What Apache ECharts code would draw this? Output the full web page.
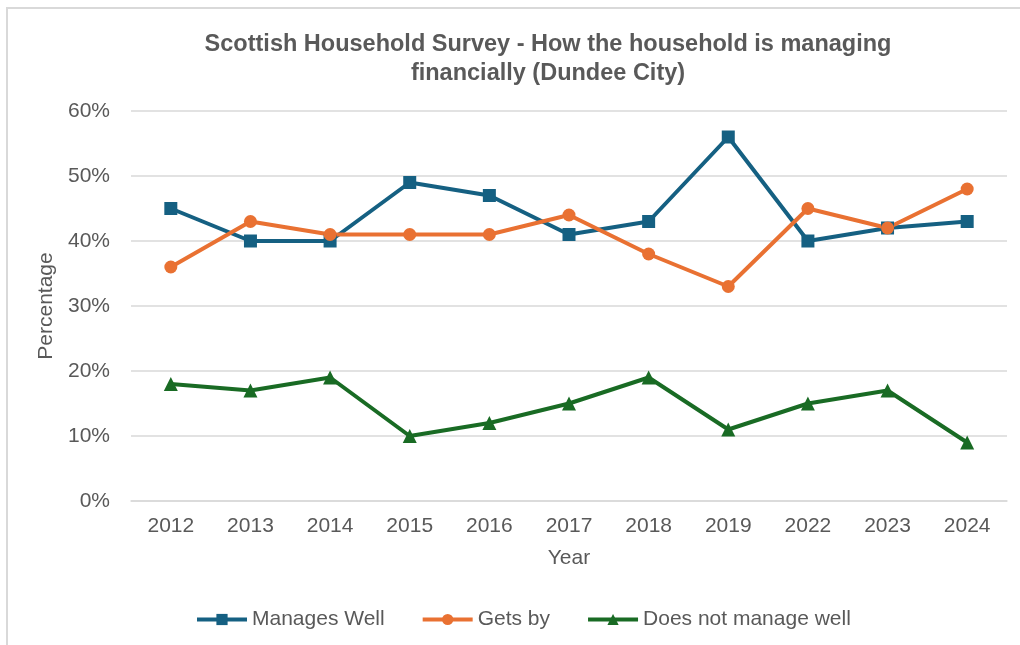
<!DOCTYPE html>
<html>
<head>
<meta charset="utf-8">
<script src="https://cdn.jsdelivr.net/npm/echarts@6/dist/echarts.min.js"></script>
<style>
html,body{margin:0;padding:0;background:#fff;}
#frame{position:absolute;left:6px;top:7px;width:1014px;height:638px;border-top:2px solid #d9d9d9;border-left:2px solid #d9d9d9;box-sizing:border-box;}
#chart{position:absolute;left:0;top:0;width:1020px;height:645px;}
</style>
</head>
<body>
<div id="frame"></div>
<div id="chart"></div>
<script>
const categories = ['2012','2013','2014','2015','2016','2017','2018','2019','2022','2023','2024'];
const managesWell = [45,40,40,49,47,41,43,56,40,42,43];
const getsBy = [36,43,41,41,41,44,38,33,45,42,48];
const doesNotManage = [18,17,19,10,12,15,19,11,15,17,9];
const seriesNames = ['Manages Well','Gets by','Does not manage well'];
const titleText = 'Scottish Household Survey - How the household is managing\nfinancially (Dundee City)';

const chart = echarts.init(document.getElementById('chart'), null, {renderer:'canvas'});
const font = 'Liberation Sans, Arial, sans-serif';
const textColor = '#595959';
chart.setOption({
  backgroundColor: 'transparent',
  animation: false,
  title: {
    text: titleText,
    left: 543,
    top: 25,
    textAlign: 'center',
    textStyle: {fontFamily: font, fontSize: 23.5, fontWeight: 'bold', color: textColor, lineHeight: 29}
  },
  grid: {left: 131, right: 13, top: 111, bottom: 144, containLabel: false},
  legend: {
    bottom: 10,
    left: 190,
    itemWidth: 50,
    itemHeight: 14,
    itemGap: 36,
    lineStyle: {width: 4},
    textStyle: {fontFamily: font, fontSize: 21, color: textColor},
    data: seriesNames
  },
  xAxis: {
    type: 'category',
    data: categories,
    name: 'Year',
    nameLocation: 'middle',
    nameGap: 47,
    nameTextStyle: {fontFamily: font, fontSize: 21, color: textColor},
    axisLine: {show: true, lineStyle: {color: '#d9d9d9', width: 1.5}},
    axisTick: {show: false},
    axisLabel: {fontFamily: font, fontSize: 21, color: textColor, margin: 15}
  },
  yAxis: {
    type: 'value',
    min: 0, max: 60, interval: 10,
    name: 'Percentage',
    nameLocation: 'middle',
    nameGap: 63,
    nameTextStyle: {fontFamily: font, fontSize: 21, color: textColor},
    axisLine: {show: false},
    axisTick: {show: false},
    axisLabel: {fontFamily: font, fontSize: 21, color: textColor, margin: 21, formatter: '{value}%'},
    splitLine: {lineStyle: {color: '#d9d9d9', width: 1.5}}
  },
  series: [
    {name: seriesNames[0], type: 'line', data: managesWell, symbol: 'rect', symbolSize: 13,
     lineStyle: {width: 4, color: '#156082'}, itemStyle: {color: '#156082'}},
    {name: seriesNames[1], type: 'line', data: getsBy, symbol: 'circle', symbolSize: 13,
     lineStyle: {width: 4, color: '#E97132'}, itemStyle: {color: '#E97132'}},
    {name: seriesNames[2], type: 'line', data: doesNotManage, symbol: 'triangle', symbolSize: 14,
     lineStyle: {width: 4, color: '#196B24'}, itemStyle: {color: '#196B24'}}
  ]
});
</script>
</body>
</html>
